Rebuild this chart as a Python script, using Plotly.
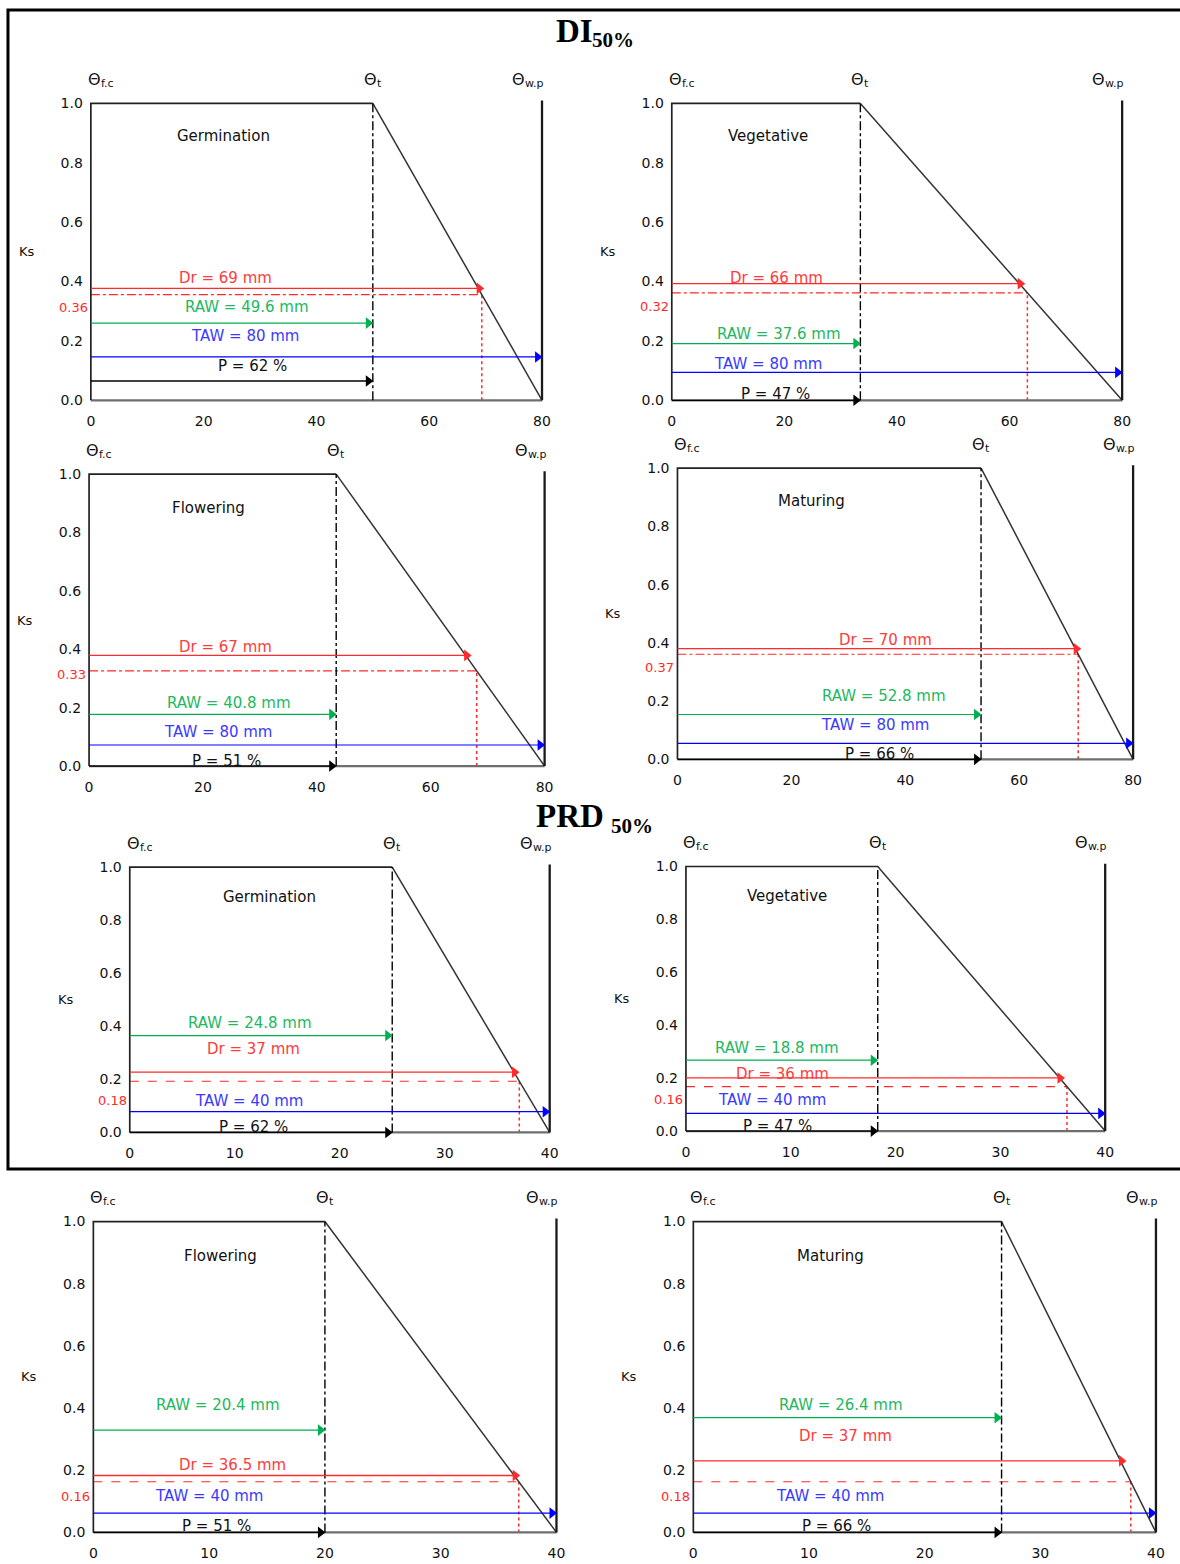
import plotly.graph_objects as go

W, H = 1180, 1564

# ---------------- data ----------------
stages = ["Germination", "Vegetative", "Flowering", "Maturing",
          "Germination", "Vegetative", "Flowering", "Maturing"]
taw = [80, 80, 80, 80, 40, 40, 40, 40]               # TAW (mm)
raw = [49.6, 37.6, 40.8, 52.8, 24.8, 18.8, 20.4, 26.4]  # RAW (mm)
dr = [69, 66, 67, 70, 37, 36, 36.5, 37]              # Dr (mm)
ks = [0.36, 0.32, 0.33, 0.37, 0.18, 0.16, 0.16, 0.18]  # Ks at Dr
p_pct = [62, 47, 51, 66, 62, 47, 51, 66]             # P (%)
theta_t = [50.0, 33.5, 43.4, 53.3, 25.0, 18.3, 20.0, 26.65]  # drawn position of Θt
ks_line = [0.356, 0.362, 0.326, 0.361, 0.193, 0.168, 0.163, 0.163]  # drawn Ks dashed level
y_ticks = [0, 0.2, 0.4, 0.6, 0.8, 1.0]
y_ticktext = ["0.0", "0.2", "0.4", "0.6", "0.8", "1.0"]
theta_subs = ["f.c", "t", "w.p"]

# ---------------- layout / styling (positions) ----------------
panel_px = [  # x(0), x(TAW), y(Ks=1), y(Ks=0) in pixels
    (91.1, 543.4, 101.7, 399.3),
    (673.5, 1125.0, 101.7, 399.3),
    (89.3, 546.0, 473.3, 766.0),
    (679.2, 1136.0, 467.3, 759.3),
    (130.1, 551.1, 867.3, 1133.3),
    (687.7, 1108.0, 866.7, 1132.0),
    (93.6, 557.9, 1222.7, 1534.3),
    (695.1, 1158.9, 1222.7, 1534.3),
]
# arrow levels (Ks units): Dr, RAW, TAW, P
arrow_y = [
    (0.377, 0.260, 0.146, 0.065),
    (0.393, 0.191, 0.094, 0.0),
    (0.379, 0.177, 0.072, 0.0),
    (0.380, 0.154, 0.055, 0.0),
    (0.227, 0.365, 0.078, 0.0),
    (0.201, 0.268, 0.067, 0.0),
    (0.183, 0.329, 0.062, 0.0),
    (0.230, 0.369, 0.062, 0.0),
]
# label positions (x in data units, y in Ks units)
label_pos = [
    dict(dr=(23.8, 0.411), raw=(27.6, 0.315), taw=(27.3, 0.216), p=(28.6, 0.115), ksy=0.313, st=(23.6, 0.891)),
    dict(dr=(18.6, 0.411), raw=(19.0, 0.223), taw=(17.1, 0.122), p=(18.5, 0.021), ksy=0.317, st=(17.1, 0.891)),
    dict(dr=(23.9, 0.408), raw=(24.5, 0.216), taw=(22.7, 0.117), p=(24.2, 0.017), ksy=0.313, st=(21.0, 0.885)),
    dict(dr=(36.5, 0.409), raw=(36.3, 0.217), taw=(34.6, 0.117), p=(35.5, 0.017), ksy=0.317, st=(23.6, 0.887)),
    dict(dr=(11.8, 0.313), raw=(11.5, 0.411), taw=(11.4, 0.119), p=(11.8, 0.021), ksy=0.119, st=(13.3, 0.888)),
    dict(dr=(9.25, 0.217), raw=(8.7, 0.315), taw=(8.2, 0.118), p=(8.7, 0.020), ksy=0.118, st=(9.6, 0.890)),
    dict(dr=(12.0, 0.217), raw=(10.8, 0.409), taw=(10.0, 0.116), p=(10.6, 0.019), ksy=0.116, st=(11.0, 0.888)),
    dict(dr=(13.2, 0.311), raw=(12.8, 0.409), taw=(11.85, 0.116), p=(12.4, 0.019), ksy=0.116, st=(11.9, 0.888)),
]

PAD = 6
HEAD = 10  # arrowhead size (px)
FONT = "DejaVu Sans"
C_RED_LINE = "#ff2a2a"
C_RED_TXT = "#ff3b3b"
C_GREEN = "#00b050"
C_GREEN_TXT = "#22b85e"
C_BLUE = "#0000ff"
C_BLUE_TXT = "#3a3aff"

fig = go.Figure()
annotations = []
layout_axes = {}

for i in range(8):
    n = i + 1
    xn, yn = f"x{n}", f"y{n}"
    x0, x1, yt, yb = panel_px[i]
    T = taw[i]
    th = theta_t[i]
    sx = (x1 - x0) / T
    sy = (yb - yt)
    step = T / 4
    xt = [k * step for k in range(5)]
    layout_axes[f"xaxis{n}"] = dict(
        domain=[(x0 - PAD) / W, (x1 + PAD) / W],
        range=[-PAD / sx, T + PAD / sx], anchor=yn,
        showgrid=False, zeroline=False, showline=False, ticks="",
        tickvals=xt, ticktext=[f"{v:g}" for v in xt],
        tickfont=dict(family=FONT, size=14, color="#111"),
        ticklabelstandoff=5,
    )
    layout_axes[f"yaxis{n}"] = dict(
        domain=[1 - (yb + PAD) / H, 1 - (yt - PAD) / H],
        range=[-PAD / sy, 1 + PAD / sy], anchor=xn,
        showgrid=False, zeroline=False, showline=False, ticks="",
        tickvals=y_ticks, ticktext=y_ticktext,
        tickfont=dict(family=FONT, size=14, color="#111"),
        ticklabelstandoff=1,
    )

    def line(xs, ys, color, width, dash="solid"):
        fig.add_trace(go.Scatter(x=xs, y=ys, mode="lines", xaxis=xn, yaxis=yn,
                                 line=dict(color=color, width=width, dash=dash),
                                 showlegend=False, hoverinfo="skip"))

    ky = ks_line[i]
    xk = th + (1 - ky) * (T - th)  # intersection of Ks level with the Ks line
    dash_h = "dashdot" if i < 4 else "dash"

    line([0, xk], [ky, ky], C_RED_LINE, 1.1, dash_h)
    line([xk, xk], [0, ky], C_RED_LINE, 1.5, "dot")
    line([0, T], [0, 0], "#6e6e6e", 2.2)
    line([0, 0, th], [0, 1, 1], "#222", 1.7)
    line([th, T], [1, 0], "#333", 1.5)
    line([T, T], [0, 1.01], "#1a1a1a", 2.3)
    line([th, th], [0, 1], "#000", 1.4, "dashdot")

    ady, ary, aty, apy = arrow_y[i]
    tip_dr = th + (1 - ady) * (T - th) + 0.012 * T

    def arrow(xe, ye, color, width=1.2):
        line([0, xe - 3 / sx], [ye, ye], color, width)
        fig.add_trace(go.Scatter(x=[xe - (HEAD * 0.45) / sx], y=[ye], mode="markers",
                                 xaxis=xn, yaxis=yn, cliponaxis=False,
                                 marker=dict(symbol="triangle-right", size=HEAD, color=color,
                                             line=dict(width=0)),
                                 showlegend=False, hoverinfo="skip"))

    arrow(tip_dr, ady, C_RED_LINE, 1.3)
    arrow(th, ary, C_GREEN, 1.2)
    arrow(T, aty, C_BLUE, 1.2)
    arrow(th, apy, "#000", 1.3)

    lp = label_pos[i]

    def label(txt, pos, color, size=15):
        annotations.append(dict(x=pos[0], y=pos[1], xref=xn, yref=yn, text=txt,
                                showarrow=False, xanchor="center", yanchor="middle",
                                font=dict(family=FONT, size=size, color=color)))

    label(f"Dr = {dr[i]:g} mm", lp["dr"], C_RED_TXT)
    label(f"RAW = {raw[i]:g} mm", lp["raw"], C_GREEN_TXT)
    label(f"TAW = {taw[i]:g} mm", lp["taw"], C_BLUE_TXT)
    label(f"P = {p_pct[i]:g} %", lp["p"], "#111")
    label(stages[i], lp["st"], "#111", 15)

    # red Ks value beside axis
    annotations.append(dict(x=0, y=lp["ksy"], xref=xn, yref=yn, text=f"{ks[i]:.2f}",
                            showarrow=False, xanchor="right", yanchor="middle", xshift=-1,
                            font=dict(family=FONT, size=13, color="#ff2a2a")))
    # Ks axis title
    annotations.append(dict(x=0, y=0.5, xref=xn, yref=yn, text="Ks", showarrow=False,
                            xanchor="center", yanchor="middle", xshift=-64,
                            font=dict(family=FONT, size=13, color="#111")))
    # Theta labels (symbol + separate subscript)
    for tx, sub, xs in zip([0, th, T], theta_subs, [-5, -11, -32]):
        annotations.append(dict(x=tx, y=1, xref=xn, yref=yn, text="Θ", showarrow=False,
                                xanchor="left", yanchor="middle", xshift=xs, yshift=24,
                                font=dict(family=FONT, size=16, color="#111")))
        annotations.append(dict(x=tx, y=1, xref=xn, yref=yn, text=sub, showarrow=False,
                                xanchor="left", yanchor="middle", xshift=xs + 13, yshift=20,
                                font=dict(family=FONT, size=11, color="#111")))

# section titles
SERIF = "Liberation Serif"
annotations += [
    dict(x=555 / W, y=1 - 29 / H, xref="paper", yref="paper", text="<b>DI</b>", showarrow=False,
         xanchor="left", yanchor="middle", font=dict(family=SERIF, size=33, color="#000")),
    dict(x=592 / W, y=1 - 38 / H, xref="paper", yref="paper", text="<b>50%</b>", showarrow=False,
         xanchor="left", yanchor="middle", font=dict(family=SERIF, size=21, color="#000")),
    dict(x=535 / W, y=1 - 816 / H, xref="paper", yref="paper", text="<b>PRD</b>", showarrow=False,
         xanchor="left", yanchor="middle", font=dict(family=SERIF, size=33, color="#000")),
    dict(x=611 / W, y=1 - 826 / H, xref="paper", yref="paper", text="<b>50%</b>", showarrow=False,
         xanchor="left", yanchor="middle", font=dict(family=SERIF, size=21, color="#000")),
]

shapes = [dict(type="rect", xref="paper", yref="paper", x0=8 / W, x1=1190 / W,
               y0=1 - 1170 / H, y1=1 - 8 / H, line=dict(color="#000", width=3))]

fig.update_layout(width=W, height=H, margin=dict(l=0, r=0, t=0, b=0),
                  paper_bgcolor="white", plot_bgcolor="white",
                  annotations=annotations, shapes=shapes, showlegend=False,
                  **layout_axes)

fig.write_html("out.html")
